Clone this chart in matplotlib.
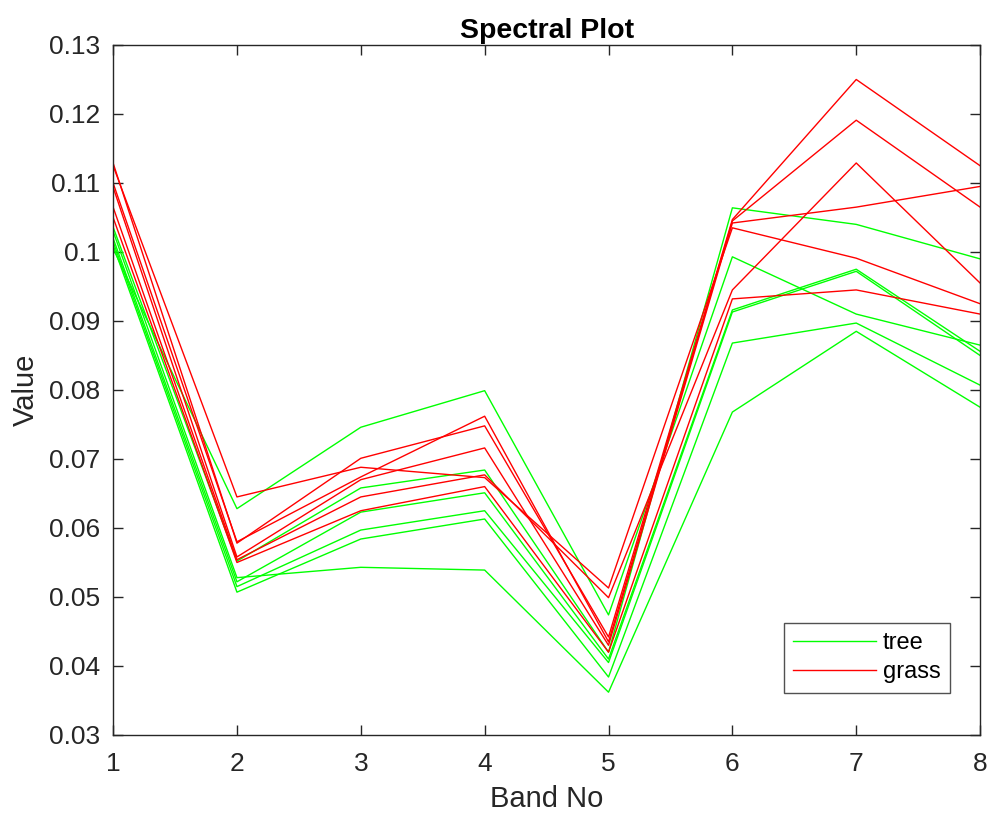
import matplotlib
matplotlib.use('Agg')
import matplotlib.pyplot as plt
import numpy as np

plt.rcParams['font.family'] = ['Liberation Sans', 'DejaVu Sans']

# band numbers
bands = [1, 2, 3, 4, 5, 6, 7, 8]

# tree spectra (green), one row per sample
tree = [
    [0.1005, 0.0628, 0.0746, 0.0799, 0.0474, 0.0993, 0.0910, 0.0865],
    [0.1036, 0.0552, 0.0658, 0.0684, 0.0420, 0.1064, 0.1040, 0.0990],
    [0.1020, 0.0522, 0.0623, 0.0651, 0.0410, 0.0916, 0.0975, 0.0856],
    [0.1015, 0.0515, 0.0597, 0.0625, 0.0405, 0.0913, 0.0972, 0.0850],
    [0.1010, 0.0507, 0.0584, 0.0613, 0.0384, 0.0868, 0.0897, 0.0807],
    [0.1030, 0.0528, 0.0543, 0.0539, 0.0362, 0.0768, 0.0885, 0.0775],
]

# grass spectra (red)
grass = [
    [0.1125, 0.0645, 0.0688, 0.0673, 0.0513, 0.1035, 0.0991, 0.0925],
    [0.1129, 0.0578, 0.0701, 0.0748, 0.0442, 0.1047, 0.1250, 0.1125],
    [0.1100, 0.0580, 0.0674, 0.0762, 0.0435, 0.1045, 0.1191, 0.1065],
    [0.1094, 0.0558, 0.0670, 0.0716, 0.0430, 0.1042, 0.1065, 0.1095],
    [0.1065, 0.0554, 0.0645, 0.0677, 0.0499, 0.0945, 0.1129, 0.0955],
    [0.1050, 0.0550, 0.0625, 0.0660, 0.0420, 0.0932, 0.0945, 0.0910],
]

axcol = '#262626'

fig = plt.figure(figsize=(9.92, 8.18), dpi=100)
ax = fig.add_axes([0.114, 0.1015, 0.874, 0.8435])

for i, row in enumerate(tree):
    ax.plot(bands, row, color=(0, 1, 0), linewidth=1.0,
            label='tree' if i == 0 else None)
for i, row in enumerate(grass):
    ax.plot(bands, row, color=(1, 0, 0), linewidth=1.0,
            label='grass' if i == 0 else None)

ax.set_xlim(1, 8)
ax.set_ylim(0.03, 0.13)
ax.set_xticks(bands)
ax.set_yticks(np.arange(0.03, 0.1301, 0.01))
ax.set_yticklabels(['0.03', '0.04', '0.05', '0.06', '0.07', '0.08', '0.09',
                    '0.1', '0.11', '0.12', '0.13'])
ax.tick_params(direction='in', length=7, width=1.0, colors=axcol,
               labelsize=19, top=True, right=True)
ax.tick_params(axis='x', pad=12)
ax.tick_params(axis='y', pad=9)
for s in ax.spines.values():
    s.set_color(axcol)
    s.set_linewidth(1.0)

ax.set_title('Spectral Plot', fontsize=20.5, fontweight='bold', pad=5)
ax.set_xlabel('Band No', fontsize=21, color=axcol, labelpad=7)
ax.set_ylabel('Value', fontsize=21, color=axcol, labelpad=7)

leg = ax.legend(loc='lower right', fontsize=17, frameon=True, fancybox=False,
                edgecolor=axcol, handlelength=3.5, handletextpad=0.3,
                borderaxespad=0, bbox_to_anchor=(0.9655, 0.061),
                labelspacing=0.3, borderpad=0.4)
leg.get_frame().set_linewidth(1.0)

fig.savefig('out.png', dpi=100)
